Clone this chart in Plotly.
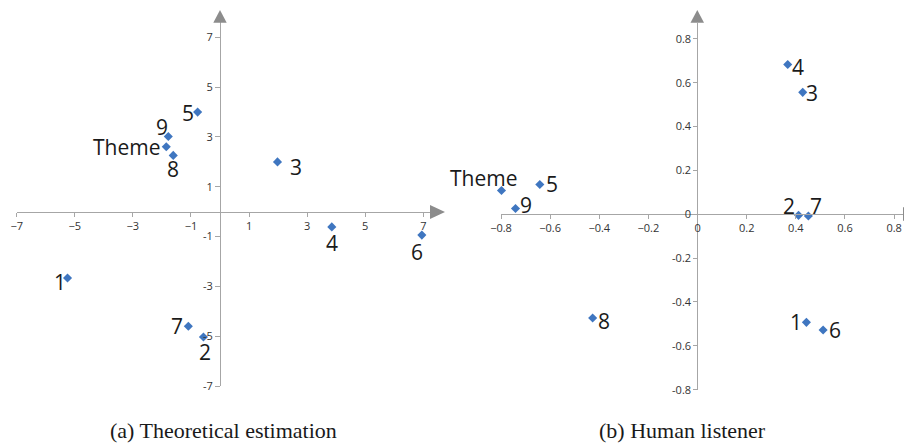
import plotly.graph_objects as go

W, H = 904, 443

# ---------------- data ----------------
labels_a = ["1", "2", "3", "4", "5", "6", "7", "8", "9", "Theme"]
x_a = [-5.25, -0.57, 1.98, 3.85, -0.77, 6.95, -1.09, -1.61, -1.78, -1.85]
y_a = [-2.66, -5.03, 2.00, -0.61, 4.00, -0.94, -4.60, 2.26, 3.02, 2.61]

labels_b = ["1", "2", "3", "4", "5", "6", "7", "8", "9", "Theme"]
x_b = [0.443, 0.411, 0.428, 0.367, -0.642, 0.511, 0.451, -0.427, -0.741, -0.798]
y_b = [-0.493, -0.005, 0.556, 0.683, 0.136, -0.528, -0.008, -0.473, 0.026, 0.108]

ticks_a = [-7, -5, -3, -1, 1, 3, 5, 7]
ticktext_ax = ["−7", "−5", "−3", "−1", "1", "3", "5", "7"]
ticktext_ay = ["-7", "-5", "-3", "-1", "1", "3", "5", "7"]
ticks_b = [-0.8, -0.6, -0.4, -0.2, 0, 0.2, 0.4, 0.6, 0.8]
ticktext_bx = ["−0.8", "−0.6", "−0.4", "−0.2", "0", "0.2", "0.4", "0.6", "0.8"]
ticktext_by = ["-0.8", "-0.6", "-0.4", "-0.2", "0", "0.2", "0.4", "0.6", "0.8"]

captions = ["(a) Theoretical estimation", "(b) Human listener"]

# label offsets (pixels: dx right, dy down) -- styling only
off_a = [(-8, 4), (2, 15), (18, 5), (0, 16), (-10, 1), (-5, 17), (-11, 0), (0, 14), (-6, -9), (-40, 0)]
off_b = [(-10, 0), (-10, -9.5), (9, 1), (10, 3), (12, 0), (12, 0), (8, -10), (11, 3), (10, -4), (-18, -13)]

def px(x):
    return x / W

def py(y):
    return 1 - y / H

AX = "#a6a6a6"
ARROW = "#8c8c8c"
MK = "#3f76c0"
TICKFONT = dict(family="Open Sans", size=11, color="#333333")
LBLFONT = dict(family="Open Sans", size=21, color="#1a1a1a")

fig = go.Figure()
fig.add_trace(go.Scatter(x=x_a, y=y_a, mode="markers", xaxis="x", yaxis="y", cliponaxis=False,
                         marker=dict(symbol="diamond", size=7, color=MK), hoverinfo="skip"))
fig.add_trace(go.Scatter(x=x_b, y=y_b, mode="markers", xaxis="x2", yaxis="y2", cliponaxis=False,
                         marker=dict(symbol="diamond", size=7, color=MK), hoverinfo="skip"))

annotations = []
for lab, xv, yv, (dx, dy) in zip(labels_a, x_a, y_a, off_a):
    annotations.append(dict(x=xv, y=yv, xref="x", yref="y", text=lab, showarrow=False,
                            xanchor="center", yanchor="middle", xshift=dx, yshift=-dy, font=LBLFONT))
for lab, xv, yv, (dx, dy) in zip(labels_b, x_b, y_b, off_b):
    annotations.append(dict(x=xv, y=yv, xref="x2", yref="y2", text=lab, showarrow=False,
                            xanchor="center", yanchor="middle", xshift=dx, yshift=-dy, font=LBLFONT))
for cap, cx in zip(captions, [223, 682.5]):
    annotations.append(dict(x=px(cx), y=py(430.5), xref="paper", yref="paper", text=cap, showarrow=False,
                            xanchor="center", yanchor="middle",
                            font=dict(family="Liberation Serif", size=22, color="#1a1a1a")))

def tri(points):
    s = "M " + " L ".join(f"{px(a)},{py(b)}" for a, b in points) + " Z"
    return dict(type="path", path=s, xref="paper", yref="paper", fillcolor=ARROW,
                line=dict(width=0), layer="above")

shapes = [
    tri([(213.3, 22.7), (220, 10), (226.7, 22.7)]),
    tri([(430, 205), (445, 212), (430, 219)]),
    tri([(690.5, 22.7), (697.3, 10), (704, 22.7)]),
    tri([(903, 207), (918, 214), (903, 221)]),
]

common = dict(showgrid=False, zeroline=False, showline=True, linecolor=AX, linewidth=1,
              ticks="outside", tickcolor=AX, tickwidth=1, tickfont=TICKFONT, automargin=False,
              fixedrange=True, tickmode="array")

fig.update_layout(
    width=W, height=H, margin=dict(l=0, r=0, t=0, b=0),
    paper_bgcolor="white", plot_bgcolor="rgba(0,0,0,0)", showlegend=False,
    xaxis=dict(domain=[px(16.7), px(432)], range=[-7, 7.3], anchor="free", position=py(212),
               tickvals=ticks_a, ticktext=ticktext_ax, ticklen=4, **common),
    yaxis=dict(domain=[py(386), py(21.7)], range=[-7, 7.63], anchor="free", position=px(220),
               tickvals=ticks_a, ticktext=ticktext_ay, ticklen=5, **common),
    xaxis2=dict(domain=[px(501), 1.0], range=[-0.8, 0.8402], anchor="free", position=py(214),
                tickvals=ticks_b, ticktext=ticktext_bx, ticklen=4, **common),
    yaxis2=dict(domain=[py(389.7), py(22.7)], range=[-0.8, 0.8735], anchor="free", position=px(697.3),
                tickvals=ticks_b, ticktext=ticktext_by, ticklen=4, **common),
    annotations=annotations, shapes=shapes,
)

fig.write_html("out.html", config={"displayModeBar": False},
               post_script="document.body.style.margin='0';document.body.style.overflow='hidden';")
